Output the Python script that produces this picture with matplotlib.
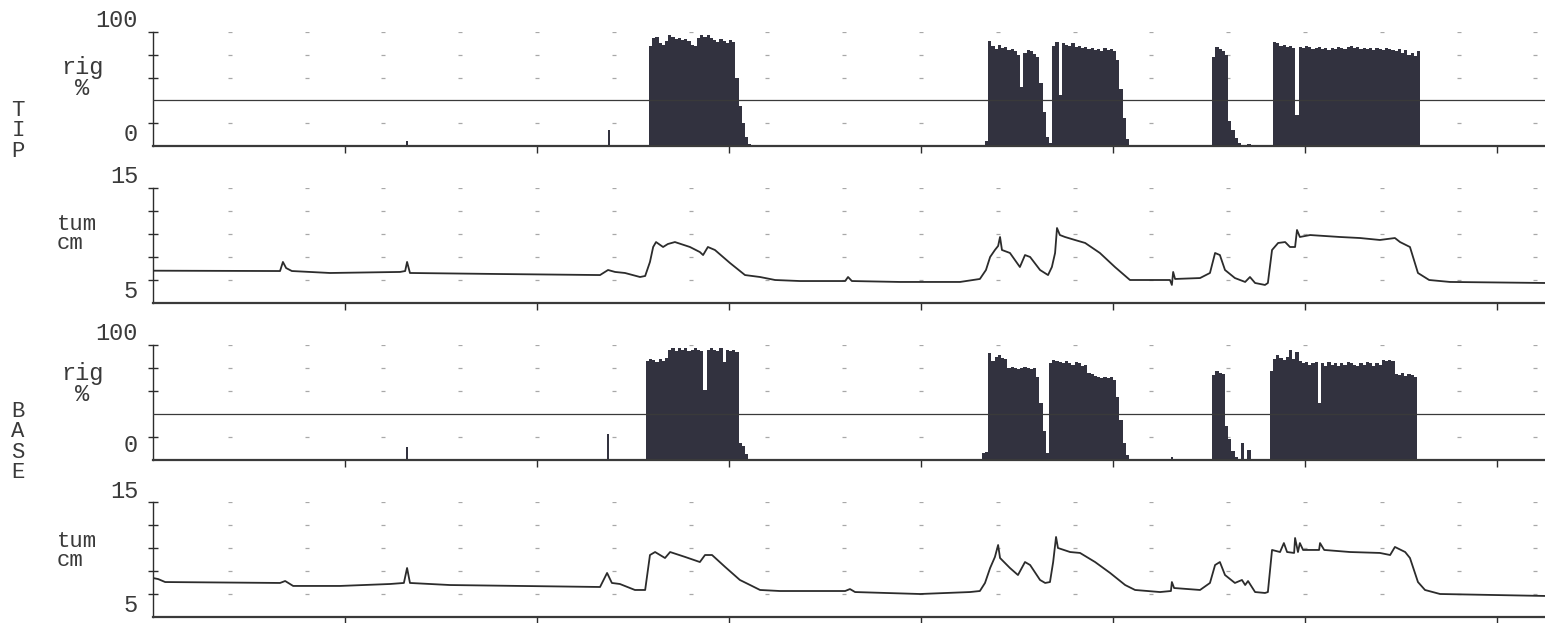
import numpy as np
import matplotlib
matplotlib.use("Agg")
import matplotlib.pyplot as plt

W, H = 1545, 623

# time axis in minutes, 60 min between bottom ticks
T_END = 435

# ---------------- TIP rigidity (%), one bar per minute ----------------
tip_spikes_t = [79.4, 142.5]
tip_spikes_h = [4, 14]

tip_ev1_start = 155
tip_ev1 = [88, 95, 96, 90, 89, 92, 97, 96, 94, 95, 93, 94, 92, 89, 88, 95, 97, 96,
           97, 95, 93, 91, 94, 92, 90, 93, 91, 60, 35, 20, 8, 2]
tip_ev2a_start = 260
tip_ev2a = [4, 92, 88, 85, 89, 86, 87, 84, 85, 83, 80, 52, 82, 84, 83, 81, 78, 55, 30, 8]
tip_ev2b_start = 280
tip_ev2b = [3, 88, 91, 45, 90, 89, 88, 90, 87, 88, 86, 87, 85, 86, 84, 85, 83, 86, 84,
            85, 83, 75, 50, 25, 6]
tip_ev3_start = 331
tip_ev3 = [78, 87, 85, 83, 80, 22, 14, 7, 3, 1, 0, 2]
tip_ev4_start = 350
tip_ev4 = [91, 90, 88, 89, 87, 88, 86, 27, 87, 86, 88, 87, 85, 86, 87, 85, 86, 84, 86,
           85, 87, 86, 85, 87, 88, 86, 87, 85, 86, 85, 86, 84, 86, 85, 84, 86, 85, 84,
           83, 85, 82, 84, 80, 82, 79, 83]

# ---------------- BASE rigidity (%) ----------------
base_spikes_t = [79.4, 142.2, 318.4, 324.0]
base_spikes_h = [11, 23, 3, 1]

base_ev1_start = 154
base_ev1 = [86, 88, 87, 85, 88, 86, 89, 96, 97, 95, 97, 96, 97, 95, 96, 97, 96, 95,
            61, 96, 97, 96, 95, 97, 85, 96, 95, 96, 94, 15, 12, 5]
base_ev2a_start = 259
base_ev2a = [6, 7, 93, 86, 90, 91, 89, 88, 80, 81, 80, 79, 80, 81, 80, 79, 80, 72, 50, 25, 6]
base_ev2b_start = 280
base_ev2b = [84, 87, 86, 85, 84, 86, 84, 83, 85, 84, 82, 83, 76, 75, 73, 72, 71, 72,
             71, 72, 70, 55, 35, 15, 4]
base_ev3_start = 331
base_ev3 = [74, 77, 76, 75, 30, 18, 8, 3, 1, 15, 1, 9, 1]
base_ev4_start = 349
base_ev4 = [77, 88, 91, 89, 87, 90, 96, 88, 94, 86, 84, 85, 83, 84, 85, 50, 84, 82,
            85, 83, 84, 82, 84, 83, 85, 84, 83, 82, 84, 83, 85, 84, 82, 84, 83, 87,
            86, 87, 86, 75, 74, 76, 73, 75, 74, 72]

# ---------------- TIP tumescence (cm) ----------------
tip_tum_t = [0, 39.7, 40.6, 41.6, 43.4, 55.3, 77.2, 78.8, 79.4, 80.3, 108.4, 139.7,
             142.2, 144.4, 147.5, 152.2, 153.8, 155.3, 156.3, 157.2, 159.4, 160.9,
             163.1, 167.8, 170.9, 171.9, 173.4, 175.6, 180.3, 185.0, 189.7, 194.4,
             202.2, 216.3, 217.2, 218.4, 233.4, 252.2, 258.4, 260.3, 261.6, 263.1,
             264.1, 264.7, 265.3, 267.8, 270.9, 272.5, 274.1, 277.2, 279.7, 280.9,
             281.9, 282.5, 283.4, 285.0, 288.1, 291.3, 295.9, 300.6, 305.3, 317.8,
             318.4, 318.8, 319.4, 327.2, 330.3, 331.9, 333.4, 335.0, 338.1, 341.3,
             342.8, 344.4, 347.5, 348.4, 349.7, 351.6, 353.8, 355.3, 356.9, 357.5,
             358.4, 361.6, 370.9, 377.2, 383.4, 388.1, 389.7, 392.8, 395.3, 398.8,
             405.3, 435]
tip_tum_v = [7.81, 7.78, 8.57, 8.04, 7.78, 7.61, 7.70, 7.78, 8.57, 7.61, 7.52, 7.43,
             7.87, 7.70, 7.61, 7.26, 7.35, 8.57, 9.87, 10.30, 9.87, 10.13, 10.30,
             9.87, 9.43, 9.17, 9.87, 9.61, 8.48, 7.43, 7.26, 7.00, 6.91, 6.91, 7.26,
             6.91, 6.83, 6.83, 7.09, 7.87, 9.00, 9.61, 9.96, 10.74, 9.61, 9.35, 8.13,
             9.17, 9.00, 7.87, 7.43, 8.13, 9.35, 11.52, 10.91, 10.74, 10.48, 10.22,
             9.35, 8.13, 7.00, 7.00, 6.57, 7.70, 7.09, 7.17, 7.61, 9.35, 9.17, 7.87,
             7.17, 6.83, 7.26, 6.74, 6.57, 6.74, 9.61, 10.22, 10.30, 9.87, 9.87,
             11.35, 10.74, 10.91, 10.74, 10.65, 10.48, 10.65, 10.30, 9.87, 7.61,
             7.00, 6.83, 6.74]

# ---------------- BASE tumescence (cm) ----------------
base_tum_t = [0, 1.6, 3.8, 39.7, 41.3, 43.8, 58.4, 74.1, 78.4, 79.4, 80.3, 92.8,
              114.7, 139.7, 141.9, 143.4, 145.9, 150.6, 153.8, 155.3, 156.9, 160.0,
              161.6, 166.3, 170.9, 172.5, 174.7, 178.8, 183.4, 186.6, 189.7, 195.9,
              216.3, 217.8, 219.4, 239.7, 255.3, 258.4, 260.0, 261.6, 263.1, 264.1,
              264.7, 267.8, 270.3, 272.5, 274.1, 277.2, 278.8, 280.3, 281.3, 282.2,
              282.8, 286.6, 289.7, 294.4, 299.1, 303.8, 306.9, 314.7, 318.1, 318.4,
              319.1, 327.2, 330.3, 331.9, 333.4, 335.0, 338.1, 340.3, 341.3, 342.2,
              344.4, 347.5, 348.4, 349.7, 352.2, 353.4, 354.4, 356.6, 356.9, 357.8,
              358.4, 359.4, 364.4, 364.7, 366.0, 374.1, 383.4, 386.6, 388.1, 391.3,
              392.8, 395.3, 397.5, 402.2, 435]
base_tum_v = [8.39, 8.30, 8.04, 7.96, 8.13, 7.70, 7.70, 7.87, 7.96, 9.26, 7.96, 7.78,
              7.70, 7.61, 8.83, 7.96, 7.87, 7.35, 7.35, 10.39, 10.65, 10.13, 10.65,
              10.22, 9.78, 10.39, 10.39, 9.35, 8.22, 7.78, 7.35, 7.26, 7.26, 7.43,
              7.17, 7.00, 7.17, 7.26, 7.96, 9.26, 10.22, 11.26, 10.13, 9.26, 8.65,
              9.78, 9.52, 8.22, 7.96, 8.04, 9.78, 11.96, 11.00, 10.65, 10.57, 9.78,
              8.83, 7.78, 7.35, 7.17, 7.26, 8.04, 7.52, 7.35, 7.96, 9.52, 9.78, 8.65,
              7.96, 8.22, 7.78, 8.13, 7.17, 7.09, 7.17, 10.83, 10.65, 11.43, 10.65,
              10.57, 11.87, 10.65, 11.43, 10.83, 10.83, 11.43, 10.83, 10.65, 10.57,
              10.39, 11.09, 10.65, 10.13, 8.04, 7.35, 7.00, 6.83]

RIG_THRESHOLD = 40

BAR_C = "#32323f"
INK = "#2c2c2c"
DOT_C = "#a8a8a8"

fig = plt.figure(figsize=(W / 100, H / 100), dpi=100)
fig.patch.set_facecolor("white")


def add_axes(top_px, bot_px):
    return fig.add_axes([153 / W, 1 - bot_px / H, (W - 153) / W, (bot_px - top_px) / H])


def style(ax, ylim, rows):
    ax.set_xlim(0, T_END)
    ax.set_ylim(*ylim)
    for s in ("top", "right"):
        ax.spines[s].set_visible(False)
    ax.spines["left"].set_color(INK)
    ax.spines["left"].set_linewidth(1.0)
    ax.spines["bottom"].set_color("#3a3a3a")
    ax.spines["bottom"].set_linewidth(1.6)
    ax.set_yticks(rows)
    ax.set_yticklabels([])
    ax.tick_params(axis="y", direction="inout", length=7, width=1, colors=INK)
    ax.set_xticks(np.arange(60, T_END, 60))
    ax.set_xticklabels([])
    ax.tick_params(axis="x", direction="out", length=5, width=1, colors=INK)
    # dotted grid marks
    gx = np.arange(24, T_END, 24)
    for r in rows:
        ax.plot(gx, [r] * len(gx), ls="none", marker="_", ms=3.5, mew=0.9,
                color=DOT_C, zorder=1)


def rig_panel(ax, spikes_t, spikes_h, events):
    style(ax, (0, 100), [20, 60, 80, 100])
    for start, vals in events:
        xs = start + np.arange(len(vals))
        ax.bar(xs, vals, width=1.0, align="edge", color=BAR_C, linewidth=0, zorder=2)
    ax.bar(spikes_t, spikes_h, width=0.5, color=BAR_C, linewidth=0, zorder=2)
    ax.axhline(RIG_THRESHOLD, color="#3a3a3a", lw=0.9, zorder=3)


def tum_panel(ax, t, v):
    style(ax, (5, 15), [7, 9, 11, 13, 15])
    ax.plot(t, v, color=INK, lw=1.3, zorder=3)


ax1 = add_axes(32, 146)
rig_panel(ax1, tip_spikes_t, tip_spikes_h,
          [(tip_ev1_start, tip_ev1), (tip_ev2a_start, tip_ev2a), (tip_ev2b_start, tip_ev2b),
           (tip_ev3_start, tip_ev3), (tip_ev4_start, tip_ev4)])
ax2 = add_axes(188, 303)
tum_panel(ax2, tip_tum_t, tip_tum_v)
ax3 = add_axes(345, 460)
rig_panel(ax3, base_spikes_t, base_spikes_h,
          [(base_ev1_start, base_ev1), (base_ev2a_start, base_ev2a), (base_ev2b_start, base_ev2b),
           (base_ev3_start, base_ev3), (base_ev4_start, base_ev4)])
ax4 = add_axes(502, 617)
tum_panel(ax4, base_tum_t, base_tum_v)

FONT = dict(family=["Liberation Mono", "DejaVu Sans Mono"], color="#3a3a3a")


def label(x, y, s, ha="left", va="baseline", size=17, **kw):
    # x, y in reference pixels
    fig.text(x / W, 1 - y / H, s, ha=ha, va=va, fontsize=size, **FONT, **kw)


# left-hand labels, pixel positions from the reference
for b100, cmid, b0 in [(27, 78, 141), (340, 384, 452)]:
    label(138, b100, "100", ha="right")
    label(82, cmid, "rig\n%", ha="center", va="center", multialignment="center",
          linespacing=0.85)
    label(138, b0, "0", ha="right")
for b15, cmid, b5 in [(183, 234, 298), (498, 551, 612)]:
    label(138, b15, "15", ha="right")
    label(57, cmid, "tum\ncm", ha="left", va="center", size=16, linespacing=0.85)
    label(138, b5, "5", ha="right")

label(18, 131, "T\nI\nP", ha="center", va="center", size=16, linespacing=0.95)
label(18, 442, "B\nA\nS\nE", ha="center", va="center", size=16, linespacing=0.95)

fig.savefig("out.png", dpi=100, facecolor="white")
